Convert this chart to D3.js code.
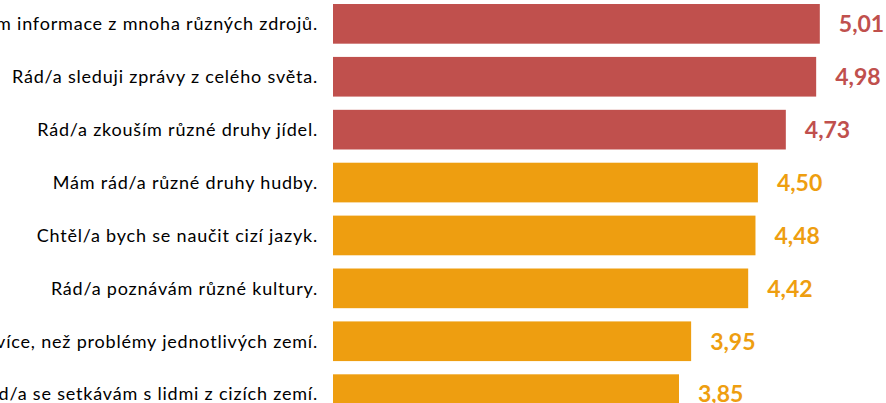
<!DOCTYPE html>
<html>
<head>
<meta charset="utf-8">
<script src="https://cdn.jsdelivr.net/npm/d3@7"></script>
<style>
  body { margin: 0; background: #fff; }
  svg { display: block; }
</style>
</head>
<body>
<svg id="chart" width="886" height="403"></svg>
<script>
// data
var categories = [
    'Rád/a vyhledávám informace z mnoha různých zdrojů.',
    'Rád/a sleduji zprávy z celého světa.',
    'Rád/a zkouším různé druhy jídel.',
    'Mám rád/a různé druhy hudby.',
    'Chtěl/a bych se naučit cizí jazyk.',
    'Rád/a poznávám různé kultury.',
    'Zajímají mě globální problémy více, než problémy jednotlivých zemí.',
    'Rád/a se setkávám s lidmi z cizích zemí.'
];
var values = [5.01, 4.98, 4.73, 4.50, 4.48, 4.42, 3.95, 3.85];
var groups = ['top', 'top', 'top', 'rest', 'rest', 'rest', 'rest', 'rest'];

var colors = { top: '#C0504D', rest: '#EE9E10' };

var svg = d3.select('#chart');

// scale starts at 1 (answer scale), the right part runs past the window
var x = d3.scaleLinear().domain([1, 6]).range([333, 940]);

var y = d3.scaleBand()
    .domain(categories)
    .range([-2.6, 420.6])
    .paddingInner(0.25)
    .paddingOuter(0.125);

var rows = categories.map(function (c, i) {
    return { cat: c, val: values[i], grp: groups[i] };
});

// bars
svg.append('g')
    .selectAll('rect')
    .data(rows)
    .join('rect')
    .attr('x', x(1))
    .attr('y', d => y(d.cat))
    .attr('width', d => x(d.val) - x(1))
    .attr('height', y.bandwidth())
    .attr('fill', d => colors[d.grp]);

// category labels (right aligned, cut off on the left)
svg.append('g')
    .selectAll('text')
    .data(rows)
    .join('text')
    .attr('x', 318)
    .attr('y', d => y(d.cat) + y.bandwidth() / 2)
    .attr('dy', '0.35em')
    .attr('text-anchor', 'end')
    .attr('font-family', 'Lato, "Open Sans", sans-serif')
    .attr('font-size', 18)
    .attr('letter-spacing', 0.8)
    .attr('fill', '#000')
    .text(d => d.cat);

// value labels
svg.append('g')
    .selectAll('text')
    .data(rows)
    .join('text')
    .attr('x', d => x(d.val) + 19)
    .attr('y', d => y(d.cat) + y.bandwidth() / 2)
    .attr('dy', '0.36em')
    .attr('font-family', 'Lato, "Open Sans", sans-serif')
    .attr('font-weight', 'bold')
    .attr('font-size', 23)
    .attr('fill', d => colors[d.grp])
    .text(d => d3.format('.2f')(d.val).replace('.', ','));
</script>
</body>
</html>
